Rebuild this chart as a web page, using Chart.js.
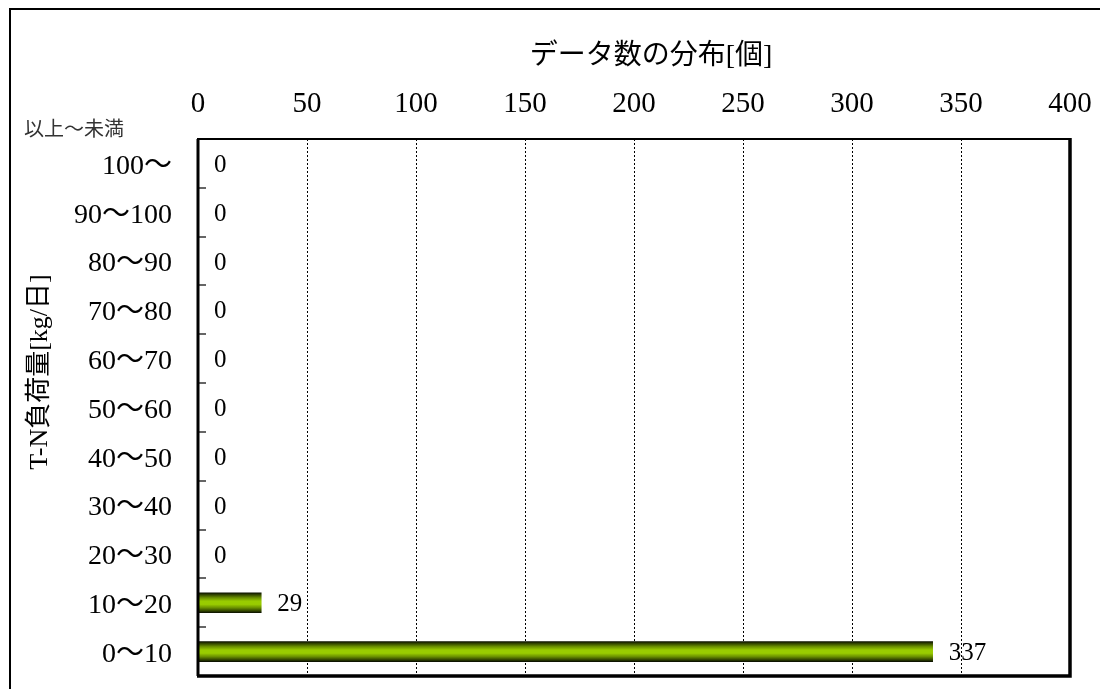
<!DOCTYPE html>
<html>
<head>
<meta charset="utf-8">
<script src="https://cdn.jsdelivr.net/npm/chart.js@4/dist/chart.umd.min.js"></script>
<style>
  html, body { margin: 0; padding: 0; background: #fff; }
  #wrap { width: 1100px; height: 689px; position: relative; }
</style>
</head>
<body>
<div id="wrap"><canvas id="c"></canvas></div>
<script>
// ---- data ----
const categories = ['100〜', '90〜100', '80〜90', '70〜80', '60〜70', '50〜60', '40〜50', '30〜40', '20〜30', '10〜20', '0〜10'];
const counts = [0, 0, 0, 0, 0, 0, 0, 0, 0, 29, 337];
const xTickValues = [0, 50, 100, 150, 200, 250, 300, 350, 400];
const chartTitle = 'データ数の分布[個]';
const yAxisTitle = 'T-N負荷量[kg/日]';
const cornerLabel = '以上〜未満';

// ---- layout constants ----
const AREA = { left: 198, top: 139, right: 1070, bottom: 676 };
const W = 1100, H = 689;
const SERIF = '"Liberation Serif", "Noto Sans CJK JP", serif';
const BAR_T = 20;

function barGradient(context) {
  const chart = context.chart;
  const ys = chart.scales && chart.scales.y;
  if (!chart.chartArea || !ys) return '#99cc00';
  const yc = ys.getPixelForValue(context.dataIndex);
  const g = chart.ctx.createLinearGradient(0, yc - BAR_T / 2, 0, yc + BAR_T / 2);
  g.addColorStop(0, '#0c1200');
  g.addColorStop(0.08, '#2c3d00');
  g.addColorStop(0.25, '#6a9000');
  g.addColorStop(0.42, '#99cc00');
  g.addColorStop(0.58, '#99cc00');
  g.addColorStop(0.75, '#6a9000');
  g.addColorStop(0.92, '#2c3d00');
  g.addColorStop(1, '#0c1200');
  return g;
}

function zeroPad(scale) {
  scale.paddingLeft = 0; scale.paddingRight = 0;
  scale.paddingTop = 0; scale.paddingBottom = 0;
}

const decor = {
  id: 'decor',
  beforeDraw(chart) {
    const ctx = chart.ctx;
    ctx.save();
    ctx.fillStyle = '#fff';
    ctx.fillRect(0, 0, W, H);
    ctx.strokeStyle = '#000';
    ctx.lineWidth = 2;
    ctx.strokeRect(10, 9, 1200, 800);
    ctx.restore();
  },
  beforeDatasetsDraw(chart) {
    const ctx = chart.ctx, xs = chart.scales.x, a = chart.chartArea;
    ctx.save();
    ctx.strokeStyle = '#000';
    ctx.lineWidth = 1;
    ctx.setLineDash([2, 2]);
    xTickValues.forEach(v => {
      if (v === xTickValues[0] || v === xTickValues[xTickValues.length - 1]) return;
      const x = Math.round(xs.getPixelForValue(v)) + 0.5;
      ctx.beginPath();
      ctx.moveTo(x, a.top);
      ctx.lineTo(x, a.bottom);
      ctx.stroke();
    });
    ctx.restore();
  },
  afterDraw(chart) {
    const ctx = chart.ctx, xs = chart.scales.x, ys = chart.scales.y, a = chart.chartArea;
    ctx.save();
    ctx.strokeStyle = '#333';
    ctx.lineWidth = 1.5;
    for (let i = 0; i < categories.length - 1; i++) {
      const y = Math.round((ys.getPixelForValue(i) + ys.getPixelForValue(i + 1)) / 2);
      ctx.beginPath();
      ctx.moveTo(a.left, y);
      ctx.lineTo(a.left + 8, y);
      ctx.stroke();
    }
    ctx.strokeStyle = '#000';
    ctx.lineWidth = 2;
    ctx.beginPath();
    ctx.moveTo(a.left, a.bottom); ctx.lineTo(a.left, a.top); ctx.lineTo(a.right, a.top);
    ctx.stroke();
    ctx.lineWidth = 3.5;
    ctx.beginPath();
    ctx.moveTo(a.right, a.top - 1); ctx.lineTo(a.right, a.bottom); ctx.lineTo(a.left - 1, a.bottom);
    ctx.stroke();
    ctx.lineWidth = 3;
    ctx.beginPath();
    ctx.moveTo(a.left, a.top); ctx.lineTo(a.left, a.bottom);
    ctx.stroke();

    ctx.fillStyle = '#000';
    ctx.font = '25px ' + SERIF;
    ctx.textAlign = 'left';
    ctx.textBaseline = 'middle';
    const meta = chart.getDatasetMeta(0);
    meta.data.forEach((bar, i) => {
      ctx.fillText(String(counts[i]), xs.getPixelForValue(counts[i]) + 16, bar.y + 2);
    });

    ctx.font = '28px ' + SERIF;
    ctx.textAlign = 'center';
    ctx.fillText(chartTitle, 651, 57);

    ctx.font = '20px "Noto Sans CJK JP", sans-serif';
    ctx.fillStyle = '#333';
    ctx.textAlign = 'left';
    ctx.fillText(cornerLabel, 24, 128);

    ctx.fillStyle = '#000';
    ctx.translate(40, 372);
    ctx.rotate(-Math.PI / 2);
    ctx.font = '26px ' + SERIF;
    ctx.textAlign = 'center';
    ctx.fillText(yAxisTitle, 0, 0);
    ctx.restore();
  }
};

new Chart(document.getElementById('c'), {
  type: 'bar',
  data: {
    labels: categories,
    datasets: [{
      data: counts,
      backgroundColor: barGradient,
      borderWidth: 0,
      barThickness: BAR_T
    }]
  },
  options: {
    indexAxis: 'y',
    responsive: true,
    maintainAspectRatio: false,
    animation: false,
    devicePixelRatio: 1,
    layout: { padding: { left: 0, top: 0, right: W - AREA.right, bottom: H - AREA.bottom } },
    plugins: { legend: { display: false }, tooltip: { enabled: false }, title: { display: false } },
    scales: {
      x: {
        position: 'top',
        min: xTickValues[0],
        max: xTickValues[xTickValues.length - 1],
        afterBuildTicks(scale) { scale.ticks = xTickValues.map(v => ({ value: v })); },
        afterFit(scale) { scale.height = AREA.top; zeroPad(scale); },
        grid: { display: false, drawTicks: false },
        border: { display: false },
        ticks: {
          color: '#000',
          font: { family: SERIF, size: 29 },
          padding: 17,
          maxRotation: 0
        }
      },
      y: {
        afterFit(scale) { scale.width = AREA.left; zeroPad(scale); },
        grid: { display: false, drawTicks: false },
        border: { display: false },
        ticks: {
          color: '#000',
          font: { family: SERIF, size: 28 },
          padding: 26,
          labelOffset: 3
        }
      }
    }
  },
  plugins: [decor]
});
</script>
</body>
</html>
